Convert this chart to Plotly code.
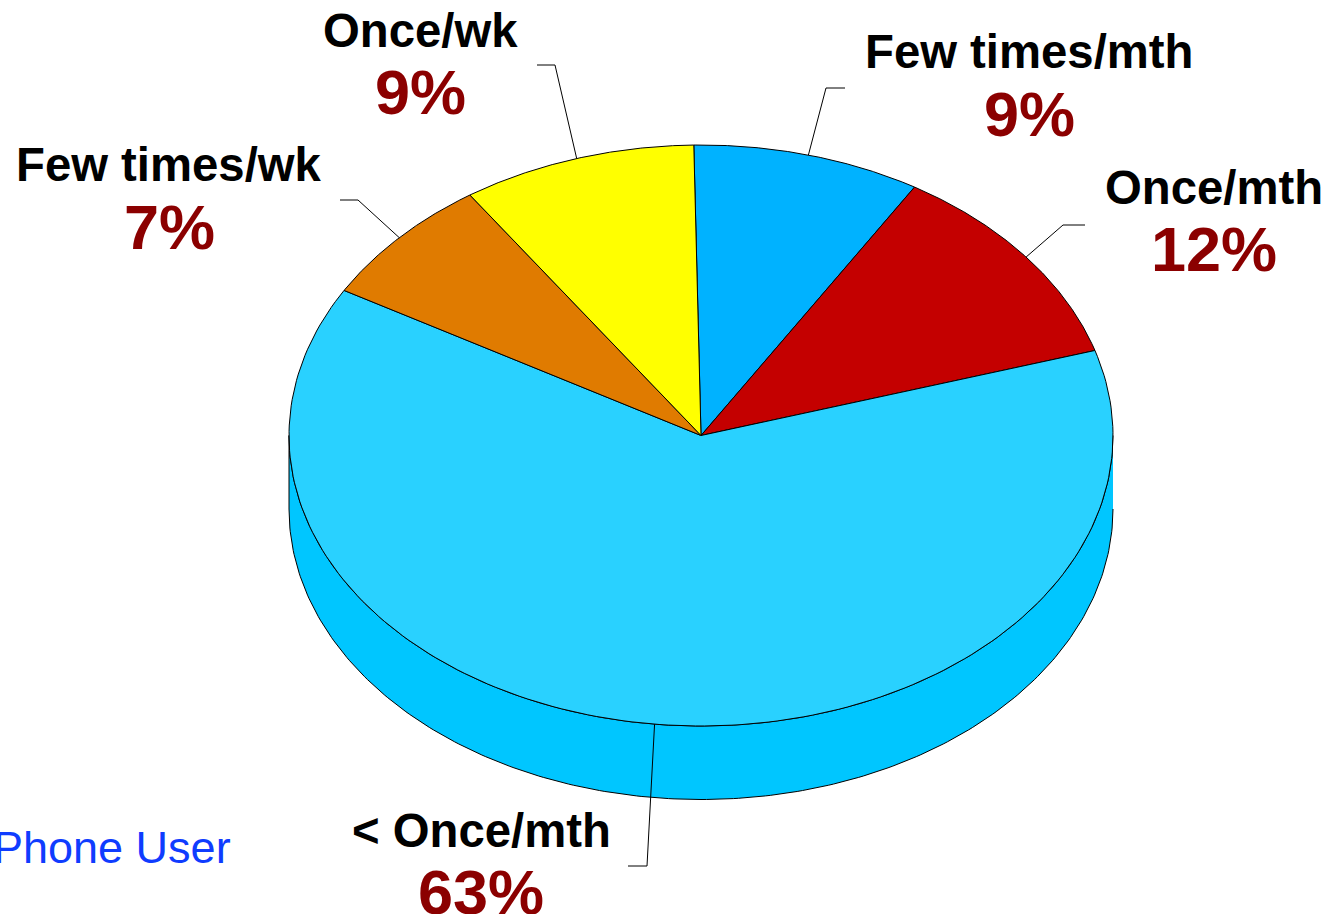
"""
    plot.py
    Tilted 3D-style pie of usage frequency, drawn with filled scatter traces.
"""
import numpy as np
import plotly.graph_objects as go

categories = ['Few times/mth', 'Once/mth', '< Once/mth', 'Few times/wk', 'Once/wk']
percent_labels = [9, 12, 63, 7, 9]
# Slice sizes (labels above are rounded)
slice_sizes = [8.95, 11.6, 63.05, 7.2, 9.2]
slice_colors = ['#00B2FF', '#C40000', '#29D1FF', '#E07B00', '#FFFF00']
side_color = '#00C6FF'

# Pie geometry, in pixels
CX, CY = 701, 435.5
RX, RY = 412, 290.5
DEPTH = 73.5
START_ANGLE = -1.0


def ellipse(angles, depth=0):
    # Angles run clockwise from the top of the pie
    rad = np.radians(angles)
    return CX + RX * np.sin(rad), CY - RY * np.cos(rad) + depth


# Where each label and leader line sits: label centre x, label y, percent y, knee, line end
label_x = [1029, 1214, 481, 169, 420]
label_y = [51, 187, 830, 164, 30]
percent_y = [114, 249, 892, 227, 92]
knee_x = [826, 1063, 647, 358, 555]
knee_y = [88, 225, 866, 200, 65]
end_x = [845, 1085, 628, 340, 537]

fig = go.Figure()

# Side wall of the cylinder, only the lower half of the rim shows
side_angles = np.linspace(90, 270, 241)
top_x, top_y = ellipse(side_angles)
low_x, low_y = ellipse(side_angles, DEPTH)
fig.add_trace(go.Scatter(
    x=np.concatenate([low_x, top_x[::-1]]),
    y=np.concatenate([low_y, top_y[::-1]]),
    mode='lines', fill='toself', fillcolor=side_color,
    line=dict(color='black', width=1), hoverinfo='skip',
))

# Top face
edges = START_ANGLE + np.cumsum([0] + slice_sizes) * 3.6
for i, color in enumerate(slice_colors):
    arc = np.linspace(edges[i], edges[i + 1], 180)
    arc_x, arc_y = ellipse(arc)
    fig.add_trace(go.Scatter(
        x=np.concatenate([[CX], arc_x, [CX]]),
        y=np.concatenate([[CY], arc_y, [CY]]),
        mode='lines', fill='toself', fillcolor=color,
        line=dict(color='black', width=1), hoverinfo='skip',
    ))

# Leader lines start at the middle of each slice's rim
for i in range(len(categories)):
    mid_x, mid_y = ellipse((edges[i] + edges[i + 1]) / 2)
    fig.add_trace(go.Scatter(
        x=[mid_x, knee_x[i], end_x[i]],
        y=[mid_y, knee_y[i], knee_y[i]],
        mode='lines', line=dict(color='black', width=1), hoverinfo='skip',
    ))

annotations = []
for i, name in enumerate(categories):
    annotations.append(dict(
        x=label_x[i], y=label_y[i], xref='x', yref='y', text='<b>%s</b>' % name,
        showarrow=False, xanchor='center', yanchor='middle',
        font=dict(family='Liberation Sans', size=47.3, color='black'),
    ))
    annotations.append(dict(
        x=label_x[i], y=percent_y[i], xref='x', yref='y',
        text='<b>%d%%</b>' % percent_labels[i],
        showarrow=False, xanchor='center', yanchor='middle',
        font=dict(family='Liberation Sans', size=63, color='#8B0000'),
    ))
annotations.append(dict(
    x=233, y=847, xref='x', yref='y', text='Phone User',
    showarrow=False, xanchor='right', yanchor='middle',
    font=dict(family='Liberation Sans', size=45, color='#0F3CFF'),
))

fig.update_layout(
    width=1326, height=914,
    margin=dict(l=0, r=0, t=0, b=0),
    paper_bgcolor='white', plot_bgcolor='white',
    showlegend=False,
    xaxis=dict(range=[0, 1326], visible=False, fixedrange=True),
    yaxis=dict(range=[914, 0], visible=False, fixedrange=True),
    annotations=annotations,
)

fig.write_html("out.html", config=dict(displayModeBar=False),
               post_script="document.body.style.margin='0';document.body.style.overflow='hidden';")
